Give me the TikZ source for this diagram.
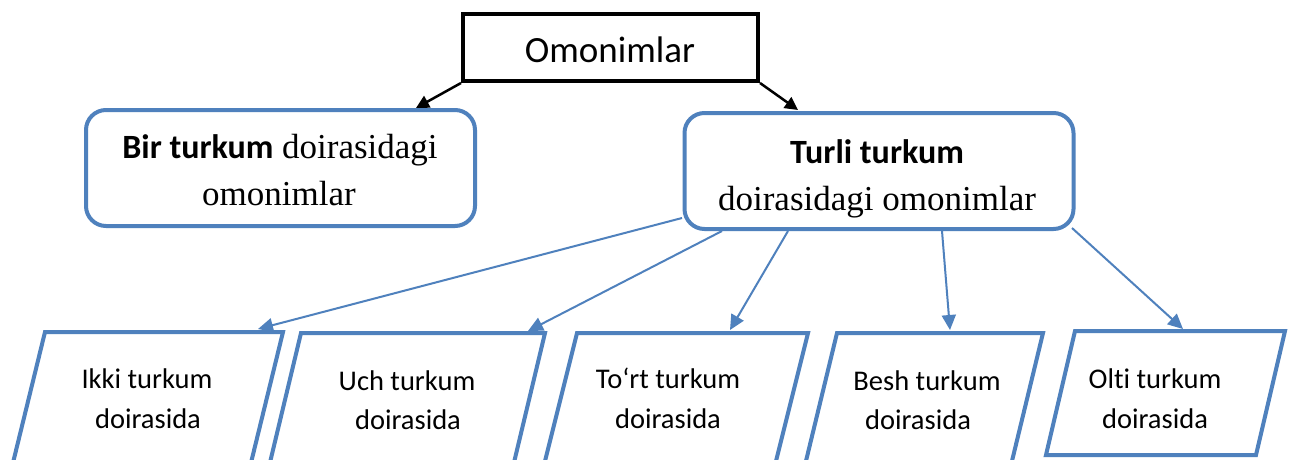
\documentclass[tikz,border=0pt]{standalone}
\usepackage{fontspec}
\setmainfont{Carlito}[Ligatures=NoCommon]
\newfontfamily\serifLS{Liberation Serif}
\usetikzlibrary{arrows.meta}
\definecolor{wblue}{HTML}{4F81BD}
\begin{document}
\begin{tikzpicture}[x=1pt,y=-1pt,
  bluebox/.style={draw=wblue,line width=4pt,rounded corners=20pt,minimum width=389pt,minimum height=116pt,inner sep=0pt},
  blackbox/.style={draw=black,line width=4pt,minimum width=295pt,minimum height=67pt,inner sep=0pt},
  paral/.style={draw=wblue,line width=4pt,miter limit=20},
  txt/.style={anchor=base,inner sep=0pt},
  bigtxt/.style={txt,font=\fontsize{37}{44}\selectfont},
  boldtxt/.style={txt,font=\fontsize{34}{40}\selectfont\bfseries},
  sertxt/.style={txt,font=\fontsize{35}{40}\selectfont\serifLS},
  smalltxt/.style={txt,font=\fontsize{28.5}{34}\selectfont},
  barrow/.style={draw=black,line width=2.5pt,-{Triangle[length=13pt,width=13pt]}},
  bluearrow/.style={draw=wblue,line width=2pt,-{Triangle[length=15pt,width=14pt]}}
]
\useasboundingbox (0,0) rectangle (1290,459);
\clip (0,0) rectangle (1290,459);
\fill[white] (0,0) rectangle (1290,459);

% main boxes
\node[blackbox] (omon) at (610.5,47.5) {};
\node[bluebox] (bir) at (280.5,168) {};
\node[bluebox] (turli) at (879,171) {};

\node[bigtxt] (omonT) at (610,62) {Omonimlar};
\node[sertxt] (birA) at (280,158) {{\fontsize{34}{40}\selectfont\normalfont\bfseries Bir turkum} doirasidagi};
\node[sertxt] (birB) at (279,205) {omonimlar};
\node[boldtxt] (turliA) at (877,163) {Turli turkum};
\node[sertxt] (turliB) at (877,210) {doirasidagi omonimlar};

% parallelograms
\draw[paral] (45,332) -- (283,332) -- (248,475) -- (10,475) -- cycle;
\draw[paral] (301,333) -- (545,333) -- (511,475) -- (267,475) -- cycle;
\draw[paral] (577,333) -- (808,333) -- (772.5,475) -- (541.5,475) -- cycle;
\draw[paral] (837,333) -- (1043,333) -- (1008.6,475) -- (802.6,475) -- cycle;
\draw[paral] (1075,331) -- (1285,331) -- (1256,455) -- (1046,455) -- cycle;

\node[smalltxt] (ikkiA) at (147,388) {Ikki turkum};
\node[smalltxt] (ikkiB) at (148,428) {doirasida};
\node[smalltxt] (uchA) at (407,390) {Uch turkum};
\node[smalltxt] (uchB) at (408,429) {doirasida};
\node[smalltxt] (tortA) at (668,388) {To‘rt turkum};
\node[smalltxt] (tortB) at (668,428) {doirasida};
\node[smalltxt] (beshA) at (927,390) {Besh turkum};
\node[smalltxt] (beshB) at (918,429) {doirasida};
\node[smalltxt] (oltiA) at (1155,388) {Olti turkum};
\node[smalltxt] (oltiB) at (1155,428) {doirasida};

% arrow end points
\coordinate (birIn) at (416,108);
\coordinate (turliIn) at (798,110);
\coordinate (s1) at (682,218);
\coordinate (s2) at (722,231);
\coordinate (s3) at (788,231);
\coordinate (s4) at (942,231);
\coordinate (s5) at (1072,228);
\coordinate (ikkiIn) at (258,329);
\coordinate (uchIn) at (528,331);
\coordinate (tortIn) at (730,330);
\coordinate (beshIn) at (950,330);
\coordinate (oltiIn) at (1183,329);

\draw[barrow] (omon.south west) -- (birIn);
\draw[barrow] (omon.south east) -- (turliIn);

\draw[bluearrow] (s1) -- (ikkiIn);
\draw[bluearrow] (s2) -- (uchIn);
\draw[bluearrow] (s3) -- (tortIn);
\draw[bluearrow] (s4) -- (beshIn);
\draw[bluearrow] (s5) -- (oltiIn);
\end{tikzpicture}
\end{document}
